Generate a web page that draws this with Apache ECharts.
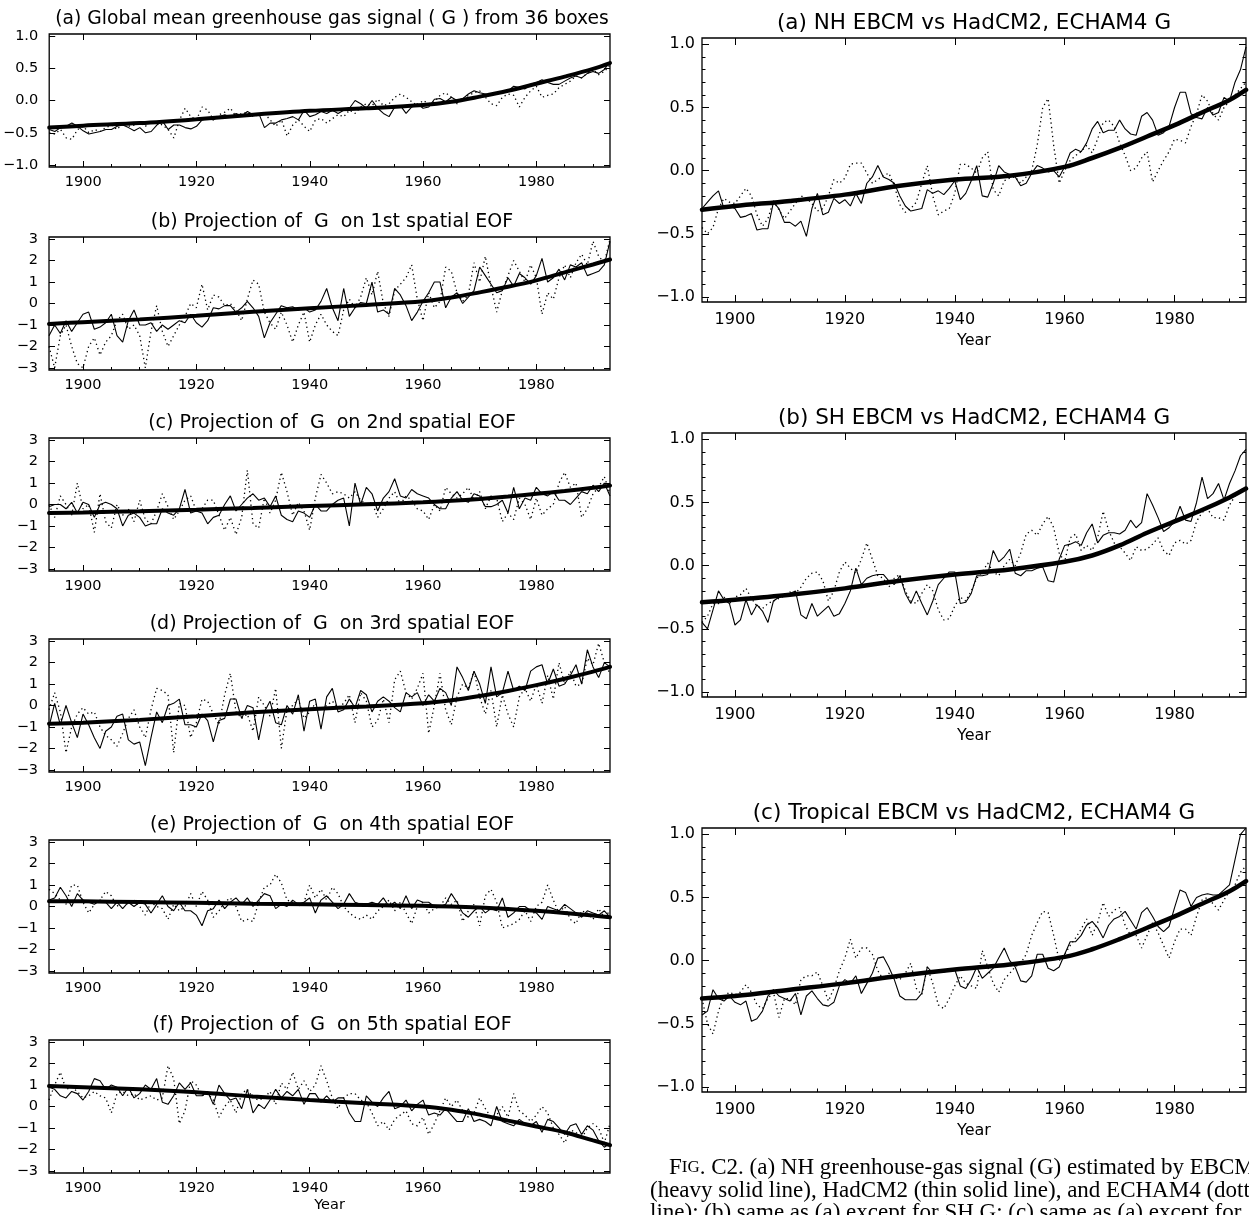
<!DOCTYPE html>
<html>
<head>
<meta charset="utf-8">
<script src="https://cdn.jsdelivr.net/npm/echarts@6.0.0/dist/echarts.min.js"></script>
<style>
  html, body { margin: 0; padding: 0; background: #fff; }
  #main { width: 1249px; height: 1215px; }
</style>
</head>
<body>
<div id="main"></div>
<script>
  // years on the x axis
  const years = [];
  for (let y = 1894; y <= 1993; y++) years.push(y);
  const fitYears = [1894, 1900, 1910, 1920, 1930, 1940, 1950, 1960, 1965, 1970, 1975, 1980, 1985, 1990, 1993];

  const yearTicks = [1900, 1920, 1940, 1960, 1980];
  const unitTicks = [-1, -0.5, 0, 0.5, 1];
  const eofTicks = [-3, -2, -1, 0, 1, 2, 3];

  // (a) global mean G
  const globalFit = [-0.42, -0.39, -0.35, -0.29, -0.22, -0.16, -0.12, -0.07, -0.02, 0.06, 0.15, 0.26, 0.37, 0.49, 0.58];
  const globalHad = [-0.45, -0.48, -0.42, -0.40, -0.35, -0.40,
    -0.47, -0.52, -0.50, -0.48, -0.45, -0.45, -0.40, -0.38, -0.42, -0.47,
    -0.42, -0.50, -0.48, -0.38, -0.32, -0.45, -0.38, -0.38, -0.42, -0.44,
    -0.40, -0.30, -0.28, -0.30, -0.25, -0.22, -0.26, -0.20, -0.24, -0.17,
    -0.22, -0.20, -0.42, -0.35, -0.35, -0.30, -0.28, -0.25, -0.30, -0.15,
    -0.25, -0.22, -0.17, -0.20, -0.15, -0.20, -0.15, -0.12, 0.00, -0.05,
    -0.12, 0.00, -0.12, -0.20, -0.25, -0.10, -0.08, -0.20, -0.10, -0.05,
    -0.12, -0.10, 0.02, 0.03, -0.02, 0.05, 0.00, 0.03, 0.10, 0.15,
    0.12, 0.10, 0.08, 0.10, 0.13, 0.15, 0.22, 0.20, 0.18, 0.25,
    0.28, 0.32, 0.28, 0.25, 0.25, 0.30, 0.35, 0.38, 0.35, 0.42,
    0.45, 0.42, 0.48, 0.60];
  const globalEch = [-0.50, -0.52, -0.45, -0.58, -0.60, -0.45,
    -0.40, -0.50, -0.45, -0.48, -0.42, -0.38, -0.45, -0.35, -0.40, -0.38,
    -0.35, -0.40, -0.32, -0.35, -0.38, -0.45, -0.58, -0.30, -0.12, -0.25,
    -0.30, -0.10, -0.15, -0.30, -0.22, -0.18, -0.12, -0.25, -0.20, -0.18,
    -0.25, -0.22, -0.20, -0.30, -0.40, -0.30, -0.55, -0.38, -0.30, -0.40,
    -0.48, -0.30, -0.28, -0.35, -0.28, -0.22, -0.25, -0.15, -0.20, -0.10,
    -0.05, -0.08, 0.02, -0.08, -0.05, 0.05, 0.10, 0.05, -0.02, -0.08,
    0.00, -0.05, -0.02, 0.08, 0.12, 0.05, -0.05, 0.02, 0.08, 0.12,
    0.15, 0.05, -0.05, -0.08, 0.05, 0.10, 0.08, -0.10, 0.05, 0.15,
    0.22, 0.05, 0.08, 0.10, 0.20, 0.25, 0.30, 0.38, 0.35, 0.42,
    0.48, 0.40, 0.45, 0.55];

  // (b) 1st EOF
  const eof1Fit = [-0.95, -0.87, -0.74, -0.57, -0.38, -0.22, -0.07, 0.10, 0.28, 0.52, 0.78, 1.08, 1.45, 1.82, 2.05];
  const eof1Had = [-1.5, -1.0, -1.4, -0.8, -1.3, -0.9,
    -0.5, -0.4, -1.2, -1.1, -0.9, -0.5, -1.5, -1.8, -0.8, -0.3,
    -1.0, -1.0, -0.9, -1.3, -1.0, -1.2, -1.0, -0.8, -0.9, -0.5,
    -0.9, -1.1, -0.8, -0.2, -0.25, -0.1, -0.1, -0.4, -0.2, 0.1,
    -0.2, -0.6, -1.6, -0.9, -0.5, -0.1, -0.2, -0.15, -0.3, -0.2,
    -0.4, -0.3, 0.1, 0.7, -0.2, -0.8, 0.7, -0.6, -0.2, 0.05,
    0.0, 1.0, -0.4, -0.3, -0.5, 0.7, 0.4, -0.1, -0.8, -0.4,
    0.1, 0.5, 1.0, 1.0, -0.2, 0.3, 0.5, 0.0, 0.3, 0.6,
    1.7, 1.3, 0.9, 0.5, 0.6, 1.2, 0.8, 1.4, 1.2, 0.9,
    1.3, 2.1, 1.0, 1.2, 1.6, 1.1, 1.8, 1.7, 1.9, 1.3,
    1.4, 1.5, 1.8, 2.9];
  const eof1Ech = [-2.0, -3.0, -1.5, -1.0, -2.0, -2.8,
    -3.0, -2.0, -1.6, -2.4, -1.8, -1.5, -0.8, -0.5, -1.2, -1.0,
    -1.5, -3.0, -1.3, -0.1, -1.3, -2.0, -1.5, -1.0, -0.6, 0.0,
    -0.2, 0.9, -0.3, 0.4, 0.3, -0.1, 0.0, -0.3, -0.8, 0.2,
    1.1, 0.9, -0.4, -0.9, -1.2, -0.4, -1.0, -1.8, -1.0, -0.4,
    -1.8, -1.0, -0.5, -1.0, -1.3, -1.5, -0.3, 0.2, -0.2, 0.3,
    1.2, 0.4, 1.5, 0.0, -0.6, 0.6, 0.9, 1.2, 1.8, 0.2,
    -0.8, 0.5, -0.2, 0.1, 1.7, 1.5, 0.5, 0.1, 0.4, 1.9,
    1.0, 2.2, 0.8, -0.4, 0.6, 1.3, 2.0, 1.5, 1.0, 1.8,
    1.2, -0.5, 0.5, 0.2, 1.2, 1.8, 1.2, 1.9, 2.3, 1.8,
    2.9, 2.2, 1.9, 3.0];

  // (c) 2nd EOF
  const eof2Fit = [-0.40, -0.37, -0.31, -0.24, -0.16, -0.07, 0.01, 0.10, 0.17, 0.26, 0.37, 0.50, 0.63, 0.78, 0.88];
  const eof2Had = [-0.1, 0.0, 0.0, -0.2, 0.1, -0.4,
    0.1, 0.0, -0.6, 0.0, 0.1, 0.0, -0.2, -1.0, -0.5, -0.4,
    -0.6, -1.0, -0.9, -0.9, -0.2, -0.4, -0.5, -0.2, 0.7, -0.4,
    -0.3, -0.4, -0.9, -0.6, -0.5, 0.0, 0.4, -0.3, 0.0, 0.3,
    0.5, 0.2, 0.3, -0.1, 0.4, -0.5, -0.7, -0.8, -0.3, -0.4,
    -0.6, 0.0, -0.3, -0.3, 0.0, 0.2, 0.3, -1.0, 1.0, 0.0,
    0.8, 0.5, -0.3, 0.3, 0.6, 1.2, 0.4, 0.3, 0.7, 0.5,
    0.4, 0.3, 0.0, -0.2, -0.2, 0.3, 0.6, 0.2, 0.1, 0.5,
    0.4, -0.1, -0.1, 0.0, 0.2, -0.4, 0.8, -0.2, 0.3, 0.2,
    0.8, 0.5, 0.4, 0.6, 0.2, 0.2, 0.0, 0.3, 0.6, 0.5,
    0.9, 0.6, 1.0, 0.4];
  const eof2Ech = [0.0, -0.6, 0.4, 0.0, -0.5, 1.0,
    -0.2, 0.0, -1.3, 0.5, -0.8, -1.1, 0.0, -0.5, -0.2, -0.8,
    0.2, -0.7, -0.9, -0.3, 0.5, -0.1, -0.7, -0.3, 0.2, 0.4,
    -0.3, -0.2, 0.2, 0.2, -0.5, -1.2, -0.6, -1.4, -0.6, 1.6,
    -0.9, -1.1, 0.3, -0.4, 0.2, 1.5, 0.6, -0.5, 0.1, -0.3,
    -1.2, 0.3, 1.4, 1.0, 0.5, 0.6, 0.5, 0.3, 0.6, 0.2,
    0.0, 0.1, -0.6, -0.2, 0.3, 0.6, 0.0, 0.4, 0.2, -0.2,
    -0.3, -0.7, 0.0, -0.3, 0.8, 0.5, 0.3, 0.5, 0.8, 0.2,
    0.6, -0.2, 0.4, 0.3, -0.8, -0.4, -0.7, 0.3, 0.0, -0.7,
    0.3, -0.5, -0.2, 0.0, 1.0, 1.5, 0.8, 1.0, -0.6, -0.2,
    0.5, 0.8, 1.3, 0.5];

  // (d) 3rd EOF
  const eof3Fit = [-0.85, -0.80, -0.67, -0.50, -0.32, -0.17, -0.05, 0.10, 0.24, 0.44, 0.68, 0.95, 1.25, 1.58, 1.80];
  const eof3Had = [-1.0, 0.1, -0.9, 0.0, -0.8, -1.5,
    -0.4, -0.9, -1.5, -2.0, -1.2, -1.0, -0.5, -0.4, -1.6, -1.8,
    -1.7, -2.8, -1.5, -0.3, -0.8, 0.0, 0.1, 0.3, -0.9, -0.9,
    -1.0, -0.4, -0.7, -1.7, -0.7, -0.6, 0.3, 0.3, -0.6, 0.0,
    -0.1, -1.6, -0.3, 0.2, -0.8, -0.9, 0.0, -0.4, 0.5, -1.2,
    0.2, 0.3, -1.1, 0.4, 0.8, -0.3, -0.2, 0.3, -0.1, 0.7,
    0.5, -0.3, 0.2, 0.4, 0.2, -0.1, -0.3, 0.6, 0.4, 0.6,
    0.0, 0.5, 0.2, 0.8, 0.6, 0.0, 1.8, 1.3, 0.7, 1.6,
    1.0, 0.1, 1.8, 0.4, 0.6, 1.6, 0.7, 0.9, 0.7, 1.6,
    1.8, 1.9, 1.0, 1.7, 0.9, 1.0, 1.4, 1.9, 1.0, 2.6,
    1.8, 1.3, 2.0, 1.8];
  const eof3Ech = [-0.2, 0.6, -0.3, -2.2, -1.0, -0.4,
    -0.1, -0.4, -0.3, -1.0, -1.4, -1.6, -1.9, -1.3, -0.6, -0.2,
    -1.0, -1.5, -0.2, 0.8, 0.7, 0.5, -2.2, 0.1, 0.0, -1.5,
    -0.8, 0.3, 0.2, -0.4, -0.9, 0.5, 1.5, -0.3, -0.6, -0.4,
    -1.2, 0.4, 0.0, -0.5, 0.8, -2.0, -0.2, 0.0, 0.3, -0.6,
    -0.3, 0.1, -0.2, 0.0, 0.2, -0.1, 0.1, 0.5, -0.8, 0.6,
    0.2, -1.0, -0.7, 0.3, -0.8, 1.2, 1.6, 0.6, 0.3, 0.8,
    1.5, -1.3, 0.0, 1.5, -0.2, -0.9, 0.4, 1.0, 0.8, 1.6,
    0.4, -0.4, 0.7, -1.0, 0.5, -0.4, -1.0, 0.4, 0.8, 0.2,
    1.0, 0.1, 1.4, 0.3, 2.0, 1.0, 1.6, 0.9, 1.0, 2.2,
    1.9, 2.9, 2.0, 1.5];

  // (e) 4th EOF
  const eof4Fit = [0.25, 0.24, 0.21, 0.17, 0.13, 0.10, 0.07, 0.03, 0.00, -0.05, -0.12, -0.20, -0.30, -0.42, -0.50];
  const eof4Had = [0.3, 0.4, 0.9, 0.5, 0.0, 0.6,
    0.3, 0.2, 0.1, 0.3, 0.2, -0.1, 0.2, -0.1, 0.2, 0.0,
    0.2, 0.1, -0.3, 0.1, 0.5, 0.0, -0.2, 0.2, -0.2, -0.2,
    -0.4, -0.9, -0.2, -0.1, 0.3, -0.1, 0.2, 0.4, 0.1, 0.4,
    0.0, 0.3, 0.6, 0.5, -0.1, 0.1, 0.0, 0.3, 0.1, 0.2,
    0.4, -0.3, 0.3, 0.5, 0.2, -0.1, 0.1, 0.6, 0.2, 0.1,
    0.1, 0.2, 0.1, 0.4, 0.0, 0.2, -0.1, 0.5, -0.1, 0.3,
    0.2, 0.2, 0.0, 0.0, 0.1, 0.6, 0.2, -0.3, -0.5, -0.2,
    0.0, -0.3, -0.1, -0.2, 0.4, -0.5, -0.3, 0.0, 0.0, -0.2,
    -0.3, -0.6, 0.0, -0.1, -0.2, 0.1, -0.1, -0.3, -0.5, -0.2,
    -0.3, -0.4, -0.2, -0.5];
  const eof4Ech = [0.8, 0.6, 0.3, 0.1, 1.0, 1.0,
    0.2, -0.3, 0.1, 0.3, 0.7, 0.5, 0.0, 0.3, 0.1, 0.3,
    0.0, -0.4, 0.2, 0.0, -0.1, -0.6, 0.1, -0.2, 0.0, 0.6,
    0.0, 0.7, 0.3, -0.5, -0.2, 0.2, 0.4, 0.0, -0.7, -0.6,
    -0.7, 0.2, 0.9, 1.0, 1.5, 1.1, 0.3, 0.2, 0.0, 0.2,
    1.0, 0.4, 0.8, 0.3, 0.9, 0.6, 0.0, -0.3, -0.5, -0.6,
    -0.4, -0.6, -0.2, 0.0, 0.3, -0.2, 0.2, -0.3, -0.8, 0.0,
    0.2, -0.3, -0.1, 0.0, 0.4, 0.1, 0.3, -0.7, -0.2, 0.1,
    -0.9, 0.5, 0.8, 0.2, -1.0, -0.9, -0.8, -0.6, -0.2, -0.7,
    0.0, 0.2, 1.0, 0.3, -0.3, 0.0, -0.6, -0.8, -0.2, -0.3,
    -0.6, -0.1, -0.5, -0.2];

  // (f) 5th EOF
  const eof5Fit = [0.95, 0.90, 0.80, 0.66, 0.47, 0.30, 0.15, 0.00, -0.15, -0.38, -0.66, -0.93, -1.20, -1.58, -1.80];
  const eof5Had = [0.9, 0.8, 0.5, 0.4, 0.7, 0.6,
    0.3, 0.7, 1.3, 1.2, 0.8, 1.0, 0.9, 0.5, 0.9, 0.4,
    0.6, 1.0, 0.8, 1.3, 0.2, 0.1, 0.5, 1.1, 0.8, 1.1,
    0.5, 0.5, 0.7, 0.1, 1.0, 0.6, 0.3, 0.4, -0.1, 0.8,
    -0.3, 0.1, -0.1, 0.3, 0.8, 0.4, 0.7, 0.5, 0.8, 0.1,
    0.6, 0.6, 0.2, 0.5, 0.2, 0.4, 0.4, -0.3, -0.7, -0.7,
    0.5, 0.2, 0.0, 0.4, 0.7, -0.1, 0.0, 0.3, -0.2, 0.1,
    0.3, -0.4, -0.3, -0.4, -0.1, -0.4, -0.7, -0.7, -0.1, -0.7,
    -0.6, -0.7, -0.9, 0.0, -0.7, -0.8, -0.9, -0.6, -0.8, -0.9,
    -0.7, -1.2, -0.6, -0.7, -1.0, -1.3, -0.9, -0.8, -1.3, -0.9,
    -1.1, -1.6, -1.9, -1.7];
  const eof5Ech = [0.3, 1.0, 1.6, 0.8, 0.9, 0.7,
    0.4, 0.5, 0.7, 0.5, 0.4, -0.3, 0.6, 0.7, 0.5, 0.6,
    0.3, 0.4, 0.5, 0.3, 0.4, 1.9, 1.3, -0.8, -0.2, 1.2,
    1.0, 0.5, 0.6, 0.3, -0.5, 0.0, 0.3, -0.3, 0.6, 0.8,
    0.4, 0.3, 0.4, 0.7, 0.1, 1.1, 0.8, 1.6, 0.8, 1.2,
    0.7, 1.0, 1.9, 1.2, 0.4, -0.1, 0.4, 0.6, 0.6, 0.3,
    0.2, -0.3, -0.9, -0.7, -1.1, -0.6, -0.4, -0.2, -0.8, -0.9,
    -0.5, -1.3, -0.8, -0.2, 0.4, 0.0, 0.3, -0.2, -0.5, -0.3,
    0.4, -0.1, -0.5, -0.4, 0.0, -0.5, 0.6, -0.2, -0.4, -0.7,
    -0.4, 0.0, -0.3, -1.0, -1.3, -1.7, -1.1, -1.2, -1.5, -1.0,
    -0.8, -1.0, -1.7, -0.8];

  // right column: NH, SH, tropical
  const nhFit = [-0.31, -0.28, -0.24, -0.19, -0.12, -0.07, -0.04, 0.03, 0.10, 0.18, 0.27, 0.36, 0.46, 0.56, 0.64];
  const nhHad = [-0.30, -0.25, -0.20, -0.16, -0.30, -0.28,
    -0.30, -0.37, -0.36, -0.34, -0.47, -0.46, -0.46, -0.25, -0.30, -0.41,
    -0.41, -0.44, -0.40, -0.52, -0.30, -0.18, -0.35, -0.33, -0.22, -0.26,
    -0.23, -0.28, -0.18, -0.26, -0.10, -0.05, 0.04, -0.05, -0.07, -0.10,
    -0.20, -0.28, -0.32, -0.31, -0.30, -0.15, -0.18, -0.16, -0.19, -0.14,
    -0.08, -0.23, -0.18, -0.08, 0.04, -0.20, -0.21, -0.10, 0.04, -0.01,
    -0.03, -0.05, -0.12, -0.10, -0.02, 0.04, 0.02, -0.01, 0.00, -0.05,
    0.03, 0.14, 0.17, 0.15, 0.22, 0.33, 0.39, 0.30, 0.32, 0.32,
    0.40, 0.33, 0.29, 0.28, 0.43, 0.46, 0.40, 0.28, 0.30, 0.35,
    0.50, 0.62, 0.62, 0.45, 0.42, 0.41, 0.50, 0.44, 0.46, 0.58,
    0.55, 0.70, 0.80, 0.98];
  const nhEch = [-0.45, -0.50, -0.45, -0.30, -0.22, -0.25,
    -0.26, -0.20, -0.14, -0.20, -0.35, -0.44, -0.38, -0.24, -0.31, -0.38,
    -0.32, -0.26, -0.20, -0.22, -0.26, -0.32, -0.30, -0.20, -0.07, -0.10,
    -0.06, 0.05, 0.06, 0.06, -0.02, -0.10, -0.07, -0.04, -0.02, -0.12,
    -0.27, -0.33, -0.30, -0.25, -0.10, 0.04, -0.20, -0.35, -0.32, -0.30,
    -0.18, 0.05, 0.05, 0.02, -0.02, 0.10, 0.15, -0.15, -0.20, -0.08,
    -0.06, -0.05, -0.10, -0.05, 0.00, 0.20, 0.50, 0.57, 0.20, -0.10,
    0.00, 0.08, 0.12, 0.15, 0.20, 0.14, 0.25, 0.38, 0.40, 0.35,
    0.22, 0.12, 0.00, 0.02, 0.10, 0.15, -0.09, 0.00, 0.08, 0.15,
    0.25, 0.24, 0.22, 0.35, 0.45, 0.60, 0.55, 0.45, 0.40, 0.50,
    0.55, 0.60, 0.65, 0.70];

  const shFit = [-0.29, -0.27, -0.23, -0.18, -0.12, -0.07, -0.03, 0.03, 0.08, 0.16, 0.26, 0.35, 0.44, 0.54, 0.61];
  const shHad = [-0.45, -0.50, -0.35, -0.20, -0.27, -0.30,
    -0.47, -0.43, -0.27, -0.39, -0.31, -0.36, -0.45, -0.28, -0.25, -0.23,
    -0.22, -0.20, -0.39, -0.42, -0.30, -0.40, -0.36, -0.32, -0.40, -0.38,
    -0.30, -0.20, -0.02, -0.15, -0.10, -0.08, -0.07, -0.07, -0.12, -0.15,
    -0.08, -0.22, -0.30, -0.20, -0.30, -0.39, -0.28, -0.15, -0.10, -0.05,
    -0.05, -0.30, -0.29, -0.22, -0.08, -0.08, -0.07, 0.12, 0.03, 0.07,
    0.13, -0.06, -0.08, -0.04, -0.04, -0.02, -0.01, -0.12, -0.13, 0.05,
    0.16, 0.17, 0.19, 0.16, 0.26, 0.33, 0.18, 0.24, 0.26, 0.26,
    0.25, 0.28, 0.36, 0.30, 0.34, 0.57, 0.48, 0.38, 0.27, 0.30,
    0.35, 0.47, 0.36, 0.35, 0.50, 0.70, 0.53, 0.57, 0.65, 0.52,
    0.65, 0.75, 0.87, 0.92];
  const shEch = [-0.45, -0.40, -0.30, -0.30, -0.25, -0.30,
    -0.25, -0.23, -0.18, -0.26, -0.32, -0.34, -0.30, -0.28, -0.26, -0.24,
    -0.21, -0.22, -0.17, -0.10, -0.06, -0.05, -0.12, -0.28, -0.20, -0.05,
    0.03, -0.02, -0.06, 0.05, 0.18, 0.05, -0.08, -0.10, -0.17, -0.10,
    -0.07, -0.20, -0.28, -0.30, -0.22, -0.15, -0.20, -0.35, -0.43, -0.42,
    -0.32, -0.25, -0.28, -0.20, -0.10, -0.05, 0.02, -0.05, -0.08, 0.00,
    0.05, 0.00, 0.10, 0.25, 0.28, 0.24, 0.33, 0.39, 0.30, 0.10,
    0.03, 0.22, 0.25, 0.12, 0.16, 0.12, 0.22, 0.43, 0.28, 0.18,
    0.15, 0.10, 0.04, 0.15, 0.12, 0.13, 0.17, 0.22, 0.12, 0.08,
    0.18, 0.20, 0.17, 0.20, 0.35, 0.42, 0.45, 0.38, 0.38, 0.36,
    0.48, 0.55, 0.60, 0.62];

  const trFit = [-0.30, -0.28, -0.23, -0.18, -0.12, -0.07, -0.03, 0.03, 0.09, 0.17, 0.26, 0.35, 0.45, 0.55, 0.63];
  const trHad = [-0.43, -0.40, -0.23, -0.30, -0.32, -0.28,
    -0.33, -0.35, -0.32, -0.48, -0.46, -0.40, -0.28, -0.23, -0.28, -0.30,
    -0.32, -0.26, -0.43, -0.28, -0.24, -0.30, -0.35, -0.36, -0.33, -0.20,
    -0.15, -0.18, -0.12, -0.26, -0.18, -0.10, 0.02, 0.03, -0.05, -0.15,
    -0.28, -0.31, -0.31, -0.31, -0.26, -0.05, -0.10, -0.08, -0.09, -0.08,
    -0.07, -0.20, -0.22, -0.15, -0.05, -0.14, -0.10, -0.06, 0.02, 0.10,
    0.00, -0.05, -0.16, -0.17, -0.12, 0.05, 0.05, -0.06, -0.08, -0.05,
    0.05, 0.15, 0.15, 0.20, 0.28, 0.31, 0.26, 0.18, 0.28, 0.33,
    0.35, 0.39, 0.32, 0.25, 0.38, 0.42, 0.35, 0.27, 0.23, 0.27,
    0.42, 0.56, 0.54, 0.43, 0.50, 0.52, 0.53, 0.52, 0.52, 0.56,
    0.60, 0.80, 1.00, 1.05];
  const trEch = [-0.30, -0.50, -0.58, -0.40, -0.28, -0.25,
    -0.27, -0.25, -0.19, -0.25, -0.35, -0.38, -0.30, -0.25, -0.45, -0.30,
    -0.30, -0.35, -0.15, -0.12, -0.12, -0.09, -0.20, -0.32, -0.22, -0.08,
    0.02, 0.17, 0.02, 0.10, 0.10, 0.05, -0.08, -0.15, -0.10, -0.13,
    -0.15, -0.10, -0.02, -0.22, -0.27, -0.05, -0.18, -0.35, -0.38, -0.30,
    -0.20, -0.12, -0.18, -0.20, -0.22, 0.08, -0.05, -0.18, -0.25, -0.15,
    -0.10, -0.05, -0.02, 0.05, 0.20, 0.30, 0.39, 0.38, 0.20, 0.00,
    0.05, 0.12, 0.18, 0.25, 0.33, 0.20, 0.30, 0.46, 0.35, 0.40,
    0.42, 0.28, 0.20, 0.20, 0.10, 0.20, 0.30, 0.22, 0.12, 0.02,
    0.15, 0.25, 0.25, 0.20, 0.35, 0.48, 0.50, 0.45, 0.40, 0.48,
    0.55, 0.60, 0.70, 0.75];

  const FONT = '"DejaVu Sans", Verdana, sans-serif';
  const SERIF = '"Liberation Serif", "Times New Roman", serif';

  // minor tick positions
  const minorYears = [];
  for (let y = 1895; y <= 1990; y += 5) minorYears.push(y);
  const minorUnit = [];
  for (let k = -10; k <= 10; k++) minorUnit.push(k / 10);

  const fmtYear = v => String(v);
  const fmtUnit = v => v.toFixed(1).replace('-', '\u2212');
  const fmtEof = v => String(v).replace('-', '\u2212');

  const panels = [
    {title: '(a) Global mean greenhouse gas signal ( G ) from 36 boxes', fit: globalFit, had: globalHad, ech: globalEch, ymin: -1.03, ymax: 1.03, ticks: unitTicks, fmt: fmtUnit, top: 34, titleFont: 18.7},
    {title: '(b) Projection of  G  on 1st spatial EOF', fit: eof1Fit, had: eof1Had, ech: eof1Ech, top: 237},
    {title: '(c) Projection of  G  on 2nd spatial EOF', fit: eof2Fit, had: eof2Had, ech: eof2Ech, top: 438},
    {title: '(d) Projection of  G  on 3rd spatial EOF', fit: eof3Fit, had: eof3Had, ech: eof3Ech, top: 639},
    {title: '(e) Projection of  G  on 4th spatial EOF', fit: eof4Fit, had: eof4Had, ech: eof4Ech, top: 840},
    {title: '(f) Projection of  G  on 5th spatial EOF', fit: eof5Fit, had: eof5Had, ech: eof5Ech, top: 1040, year: true}
  ].map(p => Object.assign({
    side: 'left', left: 49, width: 561, height: 133, ymin: -3.1, ymax: 3.1,
    ticks: eofTicks, fmt: fmtEof, font: 14.5, titleFont: 19, titleX: 332,
    tick: 6, minorY: null, labelGap: 8, yGap: 11, nameGap: 25
  }, p));

  const rightPanels = [
    {title: '(a) NH EBCM vs HadCM2, ECHAM4 G', fit: nhFit, had: nhHad, ech: nhEch, top: 38},
    {title: '(b) SH EBCM vs HadCM2, ECHAM4 G', fit: shFit, had: shHad, ech: shEch, top: 433},
    {title: '(c) Tropical EBCM vs HadCM2, ECHAM4 G', fit: trFit, had: trHad, ech: trEch, top: 828}
  ].map(p => Object.assign({
    side: 'right', left: 702, width: 544, height: 264, ymin: -1.04, ymax: 1.05,
    ticks: unitTicks, fmt: fmtUnit, font: 16, titleFont: 21.5, titleX: 974,
    tick: 7, minorY: minorUnit, year: true, labelGap: 10, yGap: 7, nameGap: 31
  }, p));

  const allPanels = panels.concat(rightPanels);

  const option = {
    animation: false,
    backgroundColor: '#fff',
    grid: [], xAxis: [], yAxis: [], series: [], graphic: []
  };

  allPanels.forEach((p, i) => {
    option.grid.push({
      left: p.left, top: p.top, width: p.width, height: p.height,
      show: true, borderColor: '#000', borderWidth: 1.3, backgroundColor: 'transparent'
    });

    const tickStyle = {color: '#000', width: 1};
    const xBase = {
      gridIndex: i, type: 'value', min: 1894, max: 1993,
      splitLine: {show: false}, axisLine: {show: false, onZero: false}
    };
    const xMain = option.xAxis.length;
    option.xAxis.push(Object.assign({}, xBase, {
      position: 'bottom',
      axisTick: {inside: true, length: p.tick, customValues: yearTicks, lineStyle: tickStyle},
      axisLabel: {customValues: yearTicks, formatter: fmtYear, color: '#000', fontSize: p.font, fontFamily: FONT, margin: p.labelGap},
      name: p.year ? 'Year' : '', nameLocation: 'middle', nameGap: p.nameGap,
      nameTextStyle: {color: '#000', fontSize: p.font, fontFamily: FONT}
    }));
    option.xAxis.push(Object.assign({}, xBase, {
      position: 'bottom',
      axisTick: {inside: true, length: p.tick / 2, customValues: minorYears, lineStyle: tickStyle},
      axisLabel: {show: false}
    }));
    option.xAxis.push(Object.assign({}, xBase, {
      position: 'top',
      axisTick: {inside: true, length: p.tick, customValues: yearTicks, lineStyle: tickStyle},
      axisLabel: {show: false}
    }));

    const yBase = {
      gridIndex: i, type: 'value', min: p.ymin, max: p.ymax,
      splitLine: {show: false}, axisLine: {show: false, onZero: false}
    };
    const yMain = option.yAxis.length;
    option.yAxis.push(Object.assign({}, yBase, {
      position: 'left',
      axisTick: {inside: true, length: p.tick, customValues: p.ticks, lineStyle: tickStyle},
      axisLabel: {customValues: p.ticks, formatter: p.fmt, color: '#000', fontSize: p.font, fontFamily: FONT, margin: p.yGap}
    }));
    option.yAxis.push(Object.assign({}, yBase, {
      position: 'right',
      axisTick: {inside: true, length: p.tick, customValues: p.ticks, lineStyle: tickStyle},
      axisLabel: {show: false}
    }));
    if (p.minorY) {
      ['left', 'right'].forEach(pos => {
        option.yAxis.push(Object.assign({}, yBase, {
          position: pos,
          axisTick: {inside: true, length: p.tick / 2, customValues: p.minorY, lineStyle: tickStyle},
          axisLabel: {show: false}
        }));
      });
    }

    // ECHAM4 dotted, HadCM2 thin, EBCM heavy
    option.series.push({
      type: 'line', xAxisIndex: xMain, yAxisIndex: yMain, symbol: 'none', silent: true,
      data: years.map((y, k) => [y, p.ech[k]]),
      lineStyle: {color: '#000', width: 1.3, type: [1.3, 3.2]}, z: 2
    });
    option.series.push({
      type: 'line', xAxisIndex: xMain, yAxisIndex: yMain, symbol: 'none', silent: true,
      data: years.map((y, k) => [y, p.had[k]]),
      lineStyle: {color: '#000', width: 1.1}, z: 3
    });
    option.series.push({
      type: 'line', xAxisIndex: xMain, yAxisIndex: yMain, symbol: 'none', silent: true,
      smooth: 0.35,
      data: fitYears.map((y, k) => [y, p.fit[k]]),
      lineStyle: {color: '#000', width: p.side === 'left' ? 4 : 4.5, cap: 'round'}, z: 4
    });

    option.graphic.push({
      type: 'text', x: p.titleX, y: p.top - 15,
      style: {text: p.title, fill: '#000', font: p.titleFont + 'px ' + FONT, align: 'center', verticalAlign: 'middle'}
    });
  });

  // figure caption (cut by the right and bottom edges like the scan)
  const captionLines = [
    '{sc|F}{sm|IG}. C2. (a) NH greenhouse-gas signal (G) estimated by EBCM',
    '(heavy solid line), HadCM2 (thin solid line), and ECHAM4 (dotted',
    'line); (b) same as (a) except for SH G; (c) same as (a) except for'
  ];
  captionLines.forEach((t, k) => {
    option.graphic.push({
      type: 'text', x: k === 0 ? 669 : 650, y: 1168 + k * 22.5,
      style: {
        text: t, fill: '#000', font: '23px ' + SERIF, verticalAlign: 'middle',
        rich: {sc: {font: '23px ' + SERIF, fill: '#000'}, sm: {font: '17px ' + SERIF, fill: '#000'}}
      }
    });
  });

  const chart = echarts.init(document.getElementById('main'), null, {renderer: 'canvas'});
  chart.setOption(option);
</script>
</body>
</html>
